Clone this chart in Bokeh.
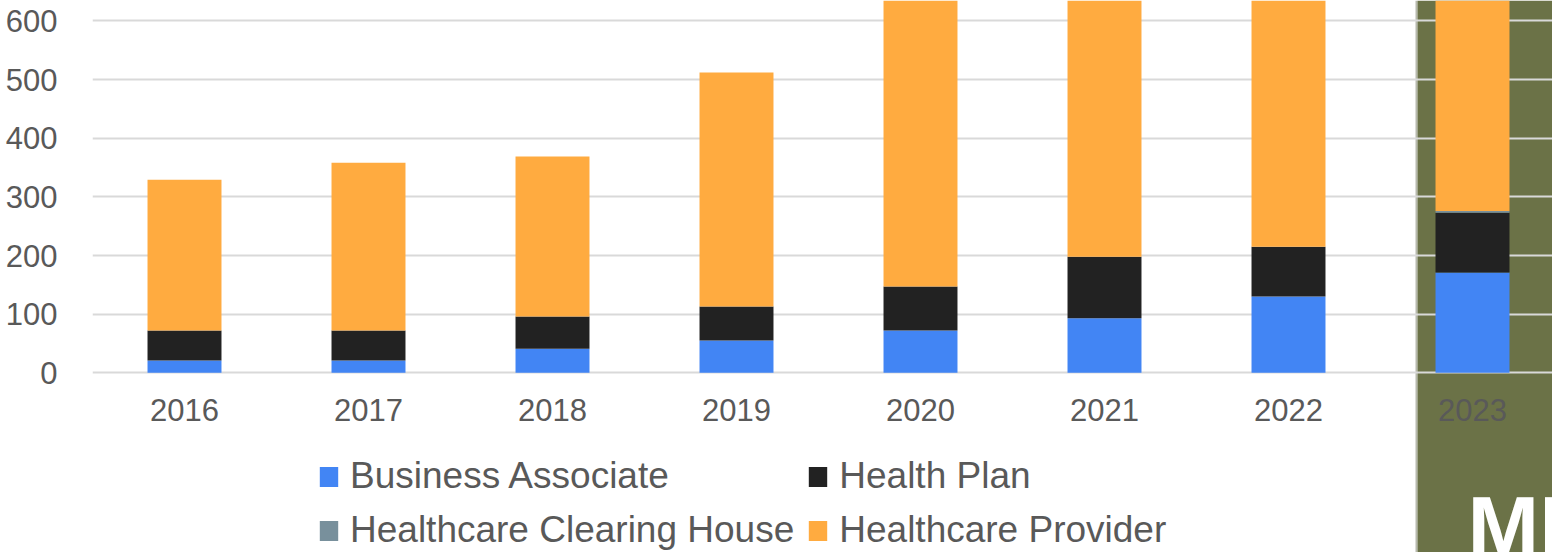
from bokeh.plotting import figure
from bokeh.models import (ColumnDataSource, Range1d, FixedTicker, Legend, LegendItem,
                          BoxAnnotation, Label)
from bokeh.embed import file_html
from bokeh.resources import INLINE

years = ["2016", "2017", "2018", "2019", "2020", "2021", "2022", "2023"]
business_associate = [21, 21, 41, 55, 72, 93, 130, 171]
health_plan = [51, 51, 55, 58, 75, 105, 85, 102]
clearing_house = [0, 0, 0, 0, 0, 0, 0, 3]
healthcare_provider = [257, 286, 273, 399, 516, 517, 505, 449]
y_ticks = [0, 100, 200, 300, 400, 500, 600]

series = ["Business Associate", "Health Plan", "Healthcare Clearing House", "Healthcare Provider"]
colors = ["#4285F4", "#222222", "#78909C", "#FFAB40"]

pos = [i + 0.5 for i in range(len(years))]
source = ColumnDataSource(dict(
    x=pos,
    **{"Business Associate": business_associate,
       "Health Plan": health_plan,
       "Healthcare Clearing House": clearing_house,
       "Healthcare Provider": healthcare_provider}))

FONT = "Liberation Sans"
TXT = "#595959"
PX = 0.5865  # pixels per unit
Y0 = 372.3   # pixel row of value 0

p = figure(width=1552, height=552, output_backend="svg", toolbar_location=None,
           x_range=Range1d(0, 1460 / 184), y_range=Range1d(-(552 - Y0) / PX, Y0 / PX),
           min_border_left=92, min_border_right=0, min_border_top=0, min_border_bottom=0)
p.outline_line_color = None
p.background_fill_color = "white"
p.border_fill_color = "white"

# highlighted region on the right
p.add_layout(BoxAnnotation(left=(1415 - 92) / 184, right=(1417 - 92) / 184,
                           fill_color="#b7b9ad", fill_alpha=1, line_color=None, level="image"))
p.add_layout(BoxAnnotation(left=(1417 - 92) / 184,
                           fill_color="#6b7247", fill_alpha=1, line_color=None, level="image"))

rs = p.vbar_stack(series, x="x", width=0.402, source=source, color=colors, line_color=None)

p.xgrid.visible = False
p.ygrid.grid_line_color = "#d9d9d9"
p.ygrid.grid_line_width = 2
p.ygrid.ticker = FixedTicker(ticks=y_ticks)

p.yaxis.ticker = FixedTicker(ticks=y_ticks)
p.xaxis.ticker = FixedTicker(ticks=pos)
p.xaxis.fixed_location = 0
p.xaxis.major_label_overrides = {x: y for x, y in zip(pos, years)}
for ax in (p.xaxis, p.yaxis):
    ax.axis_line_color = None
    ax.major_tick_line_color = None
    ax.minor_tick_line_color = None
    ax.major_label_text_font = FONT
    ax.major_label_text_font_size = "31px"
    ax.major_label_text_color = TXT
p.yaxis.major_label_standoff = 29
p.xaxis.major_label_standoff = 20

legend = Legend(items=[LegendItem(label=s, renderers=[r]) for s, r in zip(series, rs)],
                orientation="horizontal", ncols=2, location=(225, 1),
                padding=0, margin=0, border_line_color=None, background_fill_alpha=0,
                glyph_width=23, glyph_height=25, label_standoff=10, spacing=12,
                label_text_font=FONT, label_text_font_size="37px", label_text_color=TXT)
p.add_layout(legend)

p.add_layout(Label(x=(1467 - 92) / 184, y=(Y0 - 525) / PX, text="MI",
                   text_color="white", text_font=FONT, text_font_style="bold",
                   text_font_size="86px", text_baseline="alphabetic"))

open("out.html", "w").write(file_html(p, INLINE))
